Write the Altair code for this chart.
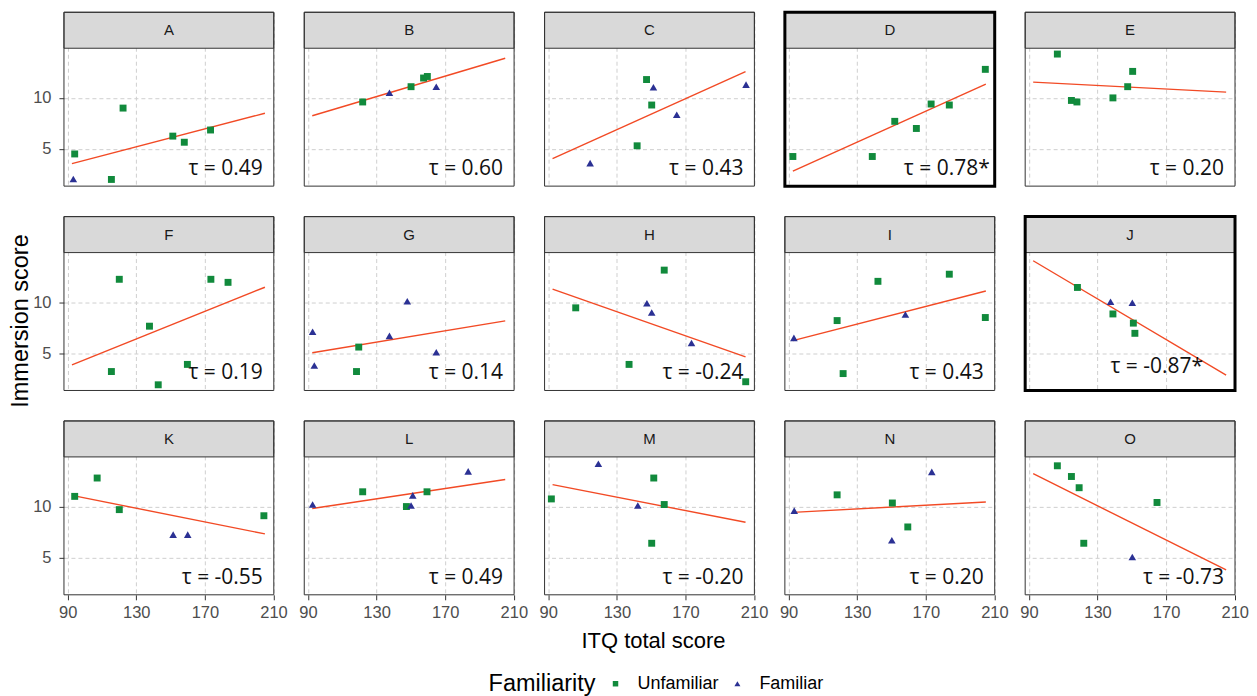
import altair as alt
import pandas as pd

# ---------------- data ----------------
PANELS = list("ABCDEFGHIJKLMNO")
TAU = ["0.49", "0.60", "0.43", "0.78*", "0.20",
       "0.19", "0.14", "-0.24", "0.43", "-0.87*",
       "-0.55", "0.49", "-0.20", "0.20", "-0.73"]
FAMILIARITY = {"U": "Unfamiliar", "F": "Familiar"}

A_ITQ = [94.1, 93.3, 115.5, 122.3, 151.3, 158.0, 173.3]
A_IMM = [4.5, 2.05, 2.0, 9.0, 6.25, 5.65, 6.85]
A_FAM = ["U", "F", "U", "U", "U", "U", "U"]

B_ITQ = [121.9, 137.5, 150.1, 157.4, 159.6, 164.8]
B_IMM = [9.6, 10.5, 11.1, 11.95, 12.1, 11.1]
B_FAM = ["U", "F", "U", "U", "U", "F"]

C_ITQ = [147.3, 151.3, 150.3, 164.9, 141.8, 114.4, 205.3]
C_IMM = [11.8, 11.05, 9.3, 8.35, 5.3, 3.6, 11.3]
C_FAM = ["U", "F", "U", "F", "U", "F", "F"]

D_ITQ = [92.5, 138.8, 151.9, 164.5, 173.1, 183.7, 204.7]
D_IMM = [4.25, 4.25, 7.7, 7.0, 9.4, 9.3, 12.8]
D_FAM = ["U", "U", "U", "U", "U", "U", "U"]

E_ITQ = [106.6, 114.8, 118.0, 139.0, 147.6, 150.5]
E_IMM = [14.3, 9.75, 9.6, 10.0, 11.1, 12.6]
E_FAM = ["U", "U", "U", "U", "U", "U"]

F_ITQ = [120.1, 173.5, 183.5, 137.7, 115.5, 159.8, 142.8]
F_IMM = [12.25, 12.25, 11.95, 7.65, 3.2, 3.9, 1.9]
F_FAM = ["U", "U", "U", "U", "U", "U", "U"]

G_ITQ = [92.7, 93.7, 119.6, 118.3, 137.5, 147.9, 164.8]
G_IMM = [7.1, 3.8, 5.6, 3.2, 6.7, 10.1, 5.1]
G_FAM = ["F", "F", "U", "U", "F", "F", "F"]

H_ITQ = [106.0, 157.6, 147.5, 150.3, 173.5, 137.1, 205.1]
H_IMM = [9.45, 13.15, 9.9, 9.0, 6.0, 3.9, 2.2]
H_FAM = ["U", "U", "F", "F", "F", "U", "U"]

I_ITQ = [93.1, 118.3, 142.1, 158.1, 183.7, 204.7, 121.8]
I_IMM = [6.5, 8.2, 12.05, 8.8, 12.75, 8.5, 3.0]
I_FAM = ["F", "U", "U", "F", "U", "U", "U"]

J_ITQ = [118.3, 137.6, 139.0, 150.3, 150.9, 151.8]
J_IMM = [11.45, 10.05, 8.85, 9.95, 7.95, 6.95]
J_FAM = ["U", "F", "U", "F", "U", "U"]

K_ITQ = [94.1, 107.2, 120.1, 151.5, 160.0, 204.4]
K_IMM = [11.0, 12.8, 9.7, 7.25, 7.25, 9.1]
K_FAM = ["U", "U", "U", "F", "F", "U"]

L_ITQ = [92.7, 121.9, 147.4, 150.1, 151.1, 159.4, 183.4]
L_IMM = [10.2, 11.45, 10.0, 10.1, 11.1, 11.45, 13.45]
L_FAM = ["F", "U", "U", "F", "F", "U", "F"]

M_ITQ = [91.8, 119.2, 151.5, 142.2, 157.6, 150.3]
M_IMM = [10.75, 14.2, 12.8, 10.1, 10.2, 6.4]
M_FAM = ["U", "F", "U", "F", "U", "U"]

N_ITQ = [93.3, 118.3, 150.5, 173.5, 159.5, 150.2]
N_IMM = [9.6, 11.15, 10.35, 13.4, 8.0, 6.7]
N_FAM = ["F", "U", "U", "F", "U", "F"]

O_ITQ = [106.6, 114.8, 119.3, 164.7, 122.0, 150.3]
O_IMM = [14.0, 12.95, 11.85, 10.4, 6.4, 5.05]
O_FAM = ["U", "U", "U", "U", "U", "F"]

SERIES = {
    "A": (A_ITQ, A_IMM, A_FAM), "B": (B_ITQ, B_IMM, B_FAM),
    "C": (C_ITQ, C_IMM, C_FAM), "D": (D_ITQ, D_IMM, D_FAM),
    "E": (E_ITQ, E_IMM, E_FAM), "F": (F_ITQ, F_IMM, F_FAM),
    "G": (G_ITQ, G_IMM, G_FAM), "H": (H_ITQ, H_IMM, H_FAM),
    "I": (I_ITQ, I_IMM, I_FAM), "J": (J_ITQ, J_IMM, J_FAM),
    "K": (K_ITQ, K_IMM, K_FAM), "L": (L_ITQ, L_IMM, L_FAM),
    "M": (M_ITQ, M_IMM, M_FAM), "N": (N_ITQ, N_IMM, N_FAM),
    "O": (O_ITQ, O_IMM, O_FAM),
}

# ---------------- table ----------------
rows = []
for p, tau in zip(PANELS, TAU):
    itq, imm, fam = SERIES[p]
    for x, y, f in zip(itq, imm, fam):
        rows.append({"panel": p, "kind": "pt", "itq": x, "imm": y,
                     "fam": FAMILIARITY[f]})
    rows.append({"panel": p, "kind": "panel", "tau": "\u03c4 = " + tau})
df = pd.DataFrame(rows)

# ---------------- style ----------------
CELL_W, CELL_H, STRIP_H = 210, 174, 36
GREEN, BLUE, LINE_RED = "#118a3c", "#2b3194", "#f24a25"
FRAME = "#333333"
LABEL_FONT = "Liberation Sans"
FAM_ORDER = ["Unfamiliar", "Familiar"]
TRIANGLE = "M0,-0.95L1.1,0.95L-1.1,0.95Z"

xscale = alt.Scale(domain=[87.84, 210.17], nice=False, zero=False)
yscale = alt.Scale(domain=[1.343, 18.40], nice=False, zero=False)

grid_kw = dict(grid=True, gridColor="#cfcfcf", gridDash=[4, 3], gridWidth=1,
               domain=False, tickColor=FRAME, tickSize=5,
               labelColor="#4d4d4d", labelFont=LABEL_FONT, labelFontSize=16.5,
               labelFlush=False, labelOverlap=False, title=None)
xaxis = alt.Axis(values=[90, 130, 170, 210], labelPadding=5, **grid_kw)
yaxis = alt.Axis(values=[5, 10], labelPadding=8, **grid_kw)

X = alt.X("itq:Q", scale=xscale, axis=xaxis)
Y = alt.Y("imm:Q", scale=yscale, axis=yaxis)

base = alt.Chart()

points = base.transform_filter("datum.kind == 'pt'").mark_point(
    filled=True, opacity=1, size=48
).encode(
    x=X, y=Y,
    color=alt.Color("fam:N", title="Familiarity",
                    scale=alt.Scale(domain=FAM_ORDER, range=[GREEN, BLUE])),
    shape=alt.Shape("fam:N", title="Familiarity",
                    scale=alt.Scale(domain=FAM_ORDER, range=["square", TRIANGLE])),
)

fit = base.transform_filter("datum.kind == 'pt'").transform_regression(
    "itq", "imm", groupby=["panel"], extent=[92.5, 205]
).mark_line(color=LINE_RED, strokeWidth=1.4).encode(x=X, y=Y)

panel_rows = base.transform_filter("datum.kind == 'panel'")

strip = panel_rows.mark_rect(fill="#d9d9d9", stroke=FRAME, strokeWidth=1).encode(
    x=alt.value(0), x2=alt.value(CELL_W), y=alt.value(0), y2=alt.value(STRIP_H)
)
strip_text = panel_rows.mark_text(
    font=LABEL_FONT, fontSize=15, color="#1a1a1a", baseline="middle"
).encode(x=alt.value(CELL_W / 2), y=alt.value(STRIP_H / 2), text="panel:N")

frame = panel_rows.mark_rect(fill="transparent").encode(
    x=alt.value(0), x2=alt.value(CELL_W), y=alt.value(0), y2=alt.value(CELL_H),
    stroke=alt.condition("datum.panel == 'D' || datum.panel == 'J'",
                         alt.value("#000000"), alt.value(FRAME)),
    strokeWidth=alt.condition("datum.panel == 'D' || datum.panel == 'J'",
                              alt.value(3), alt.value(1)),
)

tau_kw = dict(font="Open Sans", fontSize=21, color="#111111",
              align="right", baseline="alphabetic")
tau_main = panel_rows.transform_filter(
    "datum.panel != 'D' && datum.panel != 'J'"
).mark_text(**tau_kw).encode(x=alt.value(199), y=alt.value(163), text="tau:N")
tau_d = panel_rows.transform_filter("datum.panel == 'D'").mark_text(**tau_kw).encode(
    x=alt.value(205), y=alt.value(163), text="tau:N")
tau_j = panel_rows.transform_filter("datum.panel == 'J'").mark_text(**tau_kw).encode(
    x=alt.value(178), y=alt.value(157), text="tau:N")

layered = alt.layer(fit, points, strip, strip_text, tau_main, tau_d, tau_j, frame)

facet = layered.properties(width=CELL_W, height=CELL_H).facet(
    facet=alt.Facet("panel:N", sort=PANELS, title=None,
                    header=alt.Header(labels=False, labelExpr="''",
                                      labelPadding=0)),
    columns=5,
    spacing={"row": 30.5, "column": 30.5},
    data=df,
    bounds="flush",
)

ytitle = alt.Chart(pd.DataFrame({"t": ["Immersion score"]})).mark_text(
    angle=270, font=LABEL_FONT, fontSize=23.5, color="#000000", baseline="middle"
).encode(text="t:N", x=alt.value(11.8), y=alt.value(309)).properties(
    width=20, height=583
)

xtitle = alt.Chart(pd.DataFrame({"t": ["ITQ total score"]})).mark_text(
    font=LABEL_FONT, fontSize=22, color="#000000", baseline="middle"
).encode(text="t:N", x=alt.value(645), y=alt.value(18)).properties(
    width=1228, height=28
)

top = alt.hconcat(ytitle, facet, spacing=35, bounds="flush")

chart = alt.vconcat(top, xtitle, spacing=0).properties(
    padding={"left": 0, "top": -8, "right": 0, "bottom": 0}
).configure_view(stroke="transparent").configure_header(
    labels=False
).configure_headerFacet(labels=False).configure_legend(
    orient="none", legendX=480, legendY=663, direction="horizontal",
    titleOrient="left", titleFont=LABEL_FONT, titleFontSize=23.5,
    titleFontWeight="normal", titleColor="#000000", titlePadding=10,
    titleBaseline="middle",
    labelFont=LABEL_FONT, labelFontSize=18, labelColor="#000000",
    labelOffset=13, columnPadding=9, symbolSize=30, symbolStrokeWidth=0,
)

chart.save("out.html", embed_options={"renderer": "svg", "actions": False})
